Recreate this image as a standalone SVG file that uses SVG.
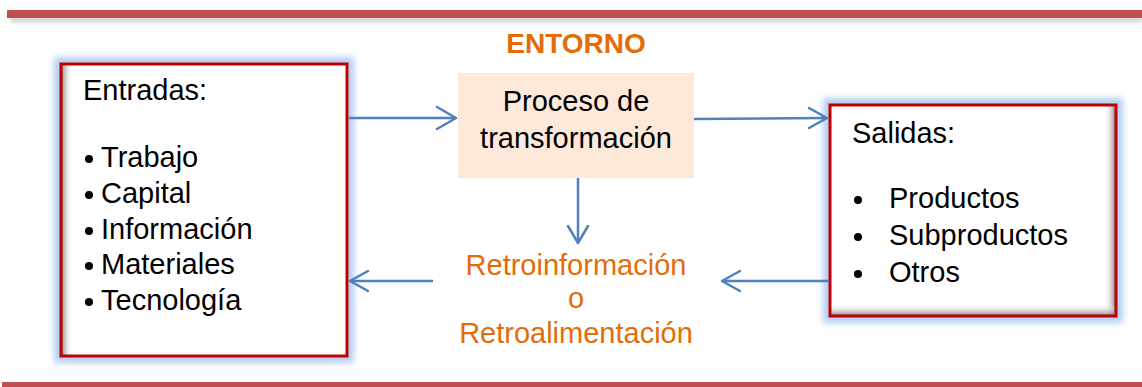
<svg xmlns="http://www.w3.org/2000/svg" width="1142" height="387" viewBox="0 0 1142 387">
<style>
.t{font-family:"Liberation Sans",Arial,sans-serif;font-size:29px;fill:#000}
.o{font-family:"Liberation Sans",Arial,sans-serif;font-size:29px;fill:#e36c09}
.h{font-family:"Liberation Sans",Arial,sans-serif;font-size:28px;font-weight:bold;fill:#e36c09}
.frame{fill:none;stroke:#c00000;stroke-width:3}
.glow{fill:none;stroke:#b4cef2;stroke-width:12;filter:url(#blur)}
.ln{stroke:#4f81bd;stroke-width:2.5;fill:none}
.hd{stroke:#4f81bd;stroke-width:2.5;fill:none;stroke-linecap:round;stroke-linejoin:round}
</style>
<defs>
<filter id="blur" x="-10%" y="-10%" width="120%" height="120%"><feGaussianBlur stdDeviation="3"/></filter>
<filter id="sh" x="-5%" y="-100%" width="110%" height="400%"><feGaussianBlur stdDeviation="2"/></filter>
<linearGradient id="gl" x1="0" y1="0" x2="1" y2="0">
<stop offset="0" stop-color="#7f7f7f"/><stop offset="1" stop-color="#ffffff" stop-opacity="0"/>
</linearGradient>
<linearGradient id="gr" x1="1" y1="0" x2="0" y2="0">
<stop offset="0" stop-color="#7f7f7f"/><stop offset="1" stop-color="#ffffff" stop-opacity="0"/>
</linearGradient>
<linearGradient id="gb" x1="0" y1="1" x2="0" y2="0">
<stop offset="0" stop-color="#7f7f7f"/><stop offset="1" stop-color="#ffffff" stop-opacity="0"/>
</linearGradient>
</defs>
<rect width="1142" height="387" fill="#fff"/>
<g id="bars">
<rect x="10" y="17" width="1132" height="5" fill="#999" opacity="0.5" filter="url(#sh)"/>
<rect x="7" y="10" width="1135" height="8" fill="#c0504d"/>
<rect x="2" y="382" width="1140" height="5" fill="#c0504d"/>
</g>
<g id="entorno"><text class="h" x="576" y="53" text-anchor="middle">ENTORNO</text></g>
<g id="entradas">
<rect class="glow" x="60" y="63" width="288" height="294"/>
<rect x="60" y="63" width="288" height="294" fill="#fff"/>
<rect x="61" y="64" width="12" height="292" fill="url(#gl)"/>
<rect class="frame" x="61" y="64" width="286" height="292"/>
<text class="t" x="83" y="100">Entradas:</text>
<g>
<circle cx="89" cy="159" r="4"/><text class="t" x="101" y="167">Trabajo</text>
<circle cx="89" cy="195" r="4"/><text class="t" x="101" y="203">Capital</text>
<circle cx="89" cy="231" r="4"/><text class="t" x="101" y="239">Información</text>
<circle cx="89" cy="266" r="4"/><text class="t" x="101" y="274">Materiales</text>
<circle cx="89" cy="302" r="4"/><text class="t" x="101" y="310">Tecnología</text>
</g>
</g>
<g id="proceso">
<rect x="458" y="73" width="236" height="105" fill="#fde9d9"/>
<text class="t" x="576" y="111" text-anchor="middle">Proceso de</text>
<text class="t" x="576" y="148" text-anchor="middle">transformación</text>
</g>
<g id="salidas">
<rect class="glow" x="829" y="104" width="288" height="213"/>
<rect x="829" y="104" width="288" height="213" fill="#fff"/>
<rect x="1104" y="105" width="12" height="211" fill="url(#gr)"/>
<rect x="830" y="304" width="286" height="12" fill="url(#gb)"/>
<rect class="frame" x="830" y="105" width="286" height="211"/>
<text class="t" x="852" y="143">Salidas:</text>
<circle cx="858" cy="200" r="4"/><text class="t" x="889" y="208">Productos</text>
<circle cx="858" cy="237" r="4"/><text class="t" x="889" y="245">Subproductos</text>
<circle cx="858" cy="274" r="4"/><text class="t" x="889" y="282">Otros</text>
</g>
<g id="retro">
<text class="o" x="576" y="275" text-anchor="middle">Retroinformación</text>
<text class="o" x="576" y="308" text-anchor="middle">o</text>
<text class="o" x="576" y="343" text-anchor="middle">Retroalimentación</text>
</g>
<g id="connectors">
<line class="ln" x1="349" y1="118" x2="456" y2="118"/>
<polyline class="hd" points="437,107 456,118 437,129"/>
<line class="ln" x1="694" y1="119" x2="827" y2="118"/>
<polyline class="hd" points="809,108 827,118 809,128"/>
<line class="ln" x1="578" y1="178" x2="578" y2="243"/>
<polyline class="hd" points="568,226 578,243 588,226"/>
<line class="ln" x1="433" y1="281" x2="350" y2="281"/>
<polyline class="hd" points="368,271 350,281 368,291"/>
<line class="ln" x1="829" y1="281" x2="722" y2="281"/>
<polyline class="hd" points="740,271 722,281 740,291"/>
</g>
</svg>
